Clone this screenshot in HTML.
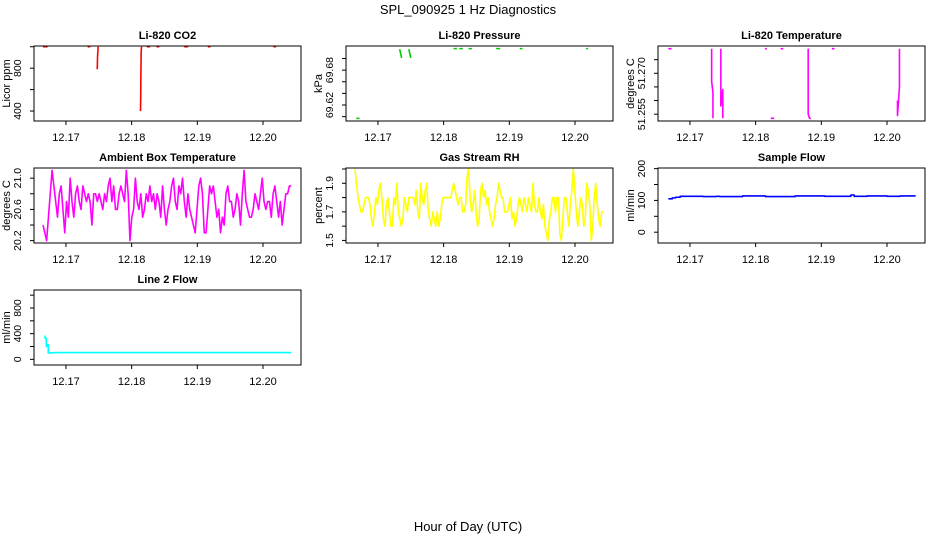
<!DOCTYPE html>
<html><head><meta charset="utf-8"><style>
html,body{margin:0;padding:0;background:#fff;}
svg{display:block;font-family:"Liberation Sans",Arial,sans-serif;}
</style></head><body>
<svg id="c" width="936" height="540" viewBox="0 0 936 540" xmlns="http://www.w3.org/2000/svg">
<rect width="936" height="540" fill="#fff"/>
<text x="468" y="14" text-anchor="middle" font-size="13">SPL_090925  1 Hz Diagnostics</text>
<text x="468" y="531" text-anchor="middle" font-size="13">Hour of Day (UTC)</text>
</svg>
<script>
// ---- data ----
const xTicks = [12.17, 12.18, 12.19, 12.20];
const xTickLabels = ["12.17", "12.18", "12.19", "12.20"];
const tStart = 12.1665, tEnd = 12.2043;

const co2T = [12.1665,12.1672,null,12.1733,12.1737,null,12.17475,12.17478,12.1748,12.17485,12.1749,null,12.18135,12.18138,12.1814,12.18145,12.1815,null,12.1823,12.1828,null,12.1838,12.1842,null,12.1880,12.1886,null,12.1916,12.1920,null,12.2016,12.2020];
const co2V = [1000,1000,null,1000,1000,null,790,820,900,950,1000,null,400,550,700,950,1000,null,1000,1000,null,1000,1000,null,1000,1000,null,1000,1000,null,1000,1000];
const co2Ticks = [400,600,800,1000];
const co2Labels = ["400","","800",""];

const presT = [12.1667,12.1672,null,12.1733,12.1736,null,12.1747,12.1750,null,12.1815,12.1820,null,12.1824,12.1829,null,12.1838,12.1843,null,12.1880,12.1886,null,12.1916,12.1920,null,12.2017,12.2020];
const presV = [69.597,69.597,null,69.716,69.701,null,69.716,69.701,null,69.717,69.717,null,69.717,69.717,null,69.717,69.717,null,69.717,69.717,null,69.717,69.717,null,69.717,69.717];
const presTicks = [69.60,69.62,69.64,69.66,69.68,69.70];
const presLabels = ["","69.62","","","69.68",""];

const tempT = [12.1667,12.1672,null,12.1733,12.1733,12.1735,12.1735,null,12.1747,12.1747,12.1750,12.1750,null,12.1814,12.1817,null,12.1823,12.1828,null,12.1838,12.1842,null,12.1880,12.1880,12.1882,12.1884,null,12.1916,12.1920,null,12.2016,12.2016,12.2019,12.2019];
const tempV = [51.279,51.279,null,51.279,51.267,51.263,51.2535,null,51.279,51.258,51.264,51.2535,null,51.279,51.279,null,51.2535,51.2535,null,51.279,51.279,null,51.279,51.255,51.2535,51.2535,null,51.279,51.279,null,51.260,51.2545,51.265,51.279];
const tempTicks = [51.255,51.260,51.265,51.270,51.275];
const tempLabels = ["51.255","","","51.270",""];

const ambV = [20.4,20.3,20.2,20.5,20.8,21.1,20.9,20.7,20.5,20.8,20.9,20.6,20.3,20.7,20.5,21.0,20.7,20.5,20.8,20.9,20.7,20.6,20.9,20.8,20.7,20.8,20.7,20.4,20.8,20.8,20.7,20.8,20.7,20.6,20.8,20.7,20.9,21.0,20.7,20.9,20.6,20.6,20.8,20.9,20.8,20.7,21.1,20.8,20.2,20.5,20.6,21.0,20.7,20.6,20.8,20.5,20.6,20.8,20.7,20.9,20.7,20.8,20.6,20.8,20.7,20.5,20.9,20.6,20.4,20.6,20.7,20.9,21.0,20.7,20.6,20.9,20.8,21.0,20.7,20.5,20.8,20.6,20.5,20.4,20.3,20.6,20.9,21.0,20.8,20.3,20.3,20.6,20.9,20.8,20.9,20.7,20.5,20.6,20.3,20.5,20.4,20.8,20.9,20.7,20.7,20.5,20.6,20.8,20.7,20.4,20.8,21.1,20.7,20.6,20.5,20.5,20.6,20.8,20.7,20.6,20.8,21.0,20.7,20.6,20.7,20.7,20.5,20.8,20.9,20.7,20.5,20.7,20.4,20.6,20.8,20.8,20.9,20.9];
const ambTicks = [20.2,20.4,20.6,20.8,21.0];
const ambLabels = ["20.2","","20.6","","21.0"];

const rhV = [2.0,1.9,1.8,1.75,1.7,1.7,1.75,1.8,1.8,1.8,1.75,1.65,1.6,1.7,1.8,1.75,1.85,1.9,1.8,1.65,1.6,1.75,1.8,1.7,1.6,1.6,1.8,1.75,1.9,1.7,1.65,1.6,1.65,1.8,1.75,1.7,1.8,1.8,1.8,1.8,1.75,1.85,1.7,1.65,1.9,1.8,1.75,1.85,1.9,1.7,1.65,1.6,1.7,1.65,1.6,1.7,1.6,1.65,1.75,1.8,1.8,1.8,1.8,1.8,1.8,1.85,1.9,1.85,1.8,1.75,1.8,1.8,1.7,1.7,1.75,1.95,2.0,1.8,1.7,1.75,1.85,1.7,1.6,1.65,1.85,1.9,1.8,1.85,1.75,1.8,1.7,1.65,1.6,1.65,1.75,1.8,1.9,1.85,1.8,1.8,1.7,1.7,1.7,1.75,1.8,1.65,1.7,1.6,1.65,1.75,1.8,1.75,1.7,1.8,1.75,1.7,1.8,1.75,1.7,1.9,1.75,1.7,1.7,1.8,1.7,1.65,1.75,1.6,1.55,1.5,1.65,1.7,1.8,1.8,1.7,1.8,1.8,1.55,1.5,1.65,1.8,1.8,1.7,1.6,1.75,1.85,2.0,1.85,1.7,1.6,1.7,1.8,1.75,1.6,1.65,1.9,1.85,1.75,1.5,1.6,1.8,1.9,1.75,1.65,1.6,1.7,1.7];
const rhTicks = [1.5,1.6,1.7,1.8,1.9,2.0];
const rhLabels = ["1.5","","1.7","","1.9",""];

const flowT = [12.1667,12.1673,12.1673,12.1678,12.1678,12.1685,12.1685,12.1720,12.1720,12.1740,12.1745,12.1770,12.1780,12.1810,12.1815,12.1850,12.1860,12.1890,12.1905,12.1940,12.1945,12.1950,12.1970,12.2000,12.2020,12.2043];
const flowV = [105,105,108,108,110,110,113,113,112,113,112,112,114,114,112,112,114,114,113,113,117,113,114,113,114,113];
const flowTicks = [0,50,100,150,200];
const flowLabels = ["0","","100","","200"];

const l2T = [12.1667,12.1668,12.1670,12.1671,12.1673,12.1680,12.1681,12.2043];
const l2V = [360,330,200,230,100,100,105,105];
const l2Ticks = [0,200,400,600,800,1000];
const l2Labels = ["0","","400","","800",""];

// ---- layout ----
const svg = document.getElementById('c');
const NS = 'http://www.w3.org/2000/svg';
const cols = [34, 346, 658];
const rows = [46, 168, 290];
const W = 267, H = 75;
const xMin = 12.16513, xMax = 12.20579;

function el(tag, attrs, parent) {
  const e = document.createElementNS(NS, tag);
  for (const k in attrs) e.setAttribute(k, attrs[k]);
  (parent || svg).appendChild(e);
  return e;
}
function seqT(n) { const a = []; for (let i = 0; i < n; i++) a.push(tStart + (tEnd - tStart) * i / (n - 1)); return a; }

function panel(key, col, row, title, ylab, yMin, yMax, ticks, labels, ts, vs, color, step) {
  const L = cols[col], T = rows[row];
  const g = el('g', {});
  
  
  const sx = t => L + (t - xMin) / (xMax - xMin) * W;
  const sy = v => T + H - (v - yMin) / (yMax - yMin) * H;
  let d = '', pen = false, prev = null;
  for (let i = 0; i < ts.length; i++) {
    if (ts[i] === null || vs[i] === null) { pen = false; prev = null; continue; }
    const x = sx(ts[i]).toFixed(2), y = sy(vs[i]).toFixed(2);
    if (!pen) { d += 'M' + x + ' ' + y; pen = true; }
    else if (step) { d += 'L' + x + ' ' + prev + 'L' + x + ' ' + y; }
    else d += 'L' + x + ' ' + y;
    prev = y;
  }
  const p = el('path', {d: d, fill: 'none', stroke: color, 'stroke-width': 1.6, 'stroke-linejoin': 'round'}, g);
  
  
  const b = el('rect', {x: L, y: T, width: W, height: H, fill: 'none', stroke: '#000', 'stroke-width': 1}, g);
  
  
  const tt = el('text', {x: L + W / 2, y: T - 7, 'text-anchor': 'middle', 'font-size': 11, 'font-weight': 'bold'}, g);
  tt.textContent = title;
  
  
  el('line', {x1: sx(xTicks[0]), x2: sx(xTicks[xTicks.length - 1]), y1: T + H, y2: T + H, stroke: '#000'}, g);
  xTicks.forEach((t, i) => {
    el('line', {x1: sx(t), x2: sx(t), y1: T + H, y2: T + H + 4, stroke: '#000'}, g);
    const lt = el('text', {x: sx(t), y: T + H + 20, 'text-anchor': 'middle', 'font-size': 11}, g);
    lt.textContent = xTickLabels[i];
    
    
  });
  el('line', {x1: L, x2: L, y1: sy(ticks[0]), y2: sy(ticks[ticks.length - 1]), stroke: '#000'}, g);
  ticks.forEach((v, i) => {
    el('line', {x1: L - 4, x2: L, y1: sy(v), y2: sy(v), stroke: '#000'}, g);
    if (labels[i]) {
      const lt = el('text', {x: 0, y: 0, 'text-anchor': 'middle', 'font-size': 10.5, transform: 'translate(' + (L - 13) + ',' + sy(v) + ') rotate(-90)'}, g);
      lt.textContent = labels[i];
      
      
    }
  });
  const yt = el('text', {x: 0, y: 0, 'text-anchor': 'middle', 'font-size': 11, transform: 'translate(' + (L - 24) + ',' + (T + H / 2) + ') rotate(-90)'}, g);
  yt.textContent = ylab;
  
  
}

panel('co2', 0, 0, 'Li-820 CO2', 'Licor ppm', 307, 1007, co2Ticks, co2Labels, co2T, co2V, '#ff0000', false);
panel('pressure', 1, 0, 'Li-820 Pressure', 'kPa', 69.5925, 69.7215, presTicks, presLabels, presT, presV, '#00cc00', false);
panel('licor-temp', 2, 0, 'Li-820 Temperature', 'degrees C', 51.2525, 51.2800, tempTicks, tempLabels, tempT, tempV, '#ff00ff', false);
panel('ambient-temp', 0, 1, 'Ambient Box Temperature', 'degrees C', 20.17, 21.13, ambTicks, ambLabels, seqT(ambV.length), ambV, '#ff00ff', false);
panel('rh', 1, 1, 'Gas Stream RH', 'percent', 1.482, 2.007, rhTicks, rhLabels, seqT(rhV.length), rhV, '#ffff00', false);
panel('sample-flow', 2, 1, 'Sample Flow', 'ml/min', -34, 202, flowTicks, flowLabels, flowT, flowV, '#0000ff', true);
panel('line2-flow', 0, 2, 'Line 2 Flow', 'ml/min', -88, 1080, l2Ticks, l2Labels, l2T, l2V, '#00ffff', true);
</script>
</body></html>
